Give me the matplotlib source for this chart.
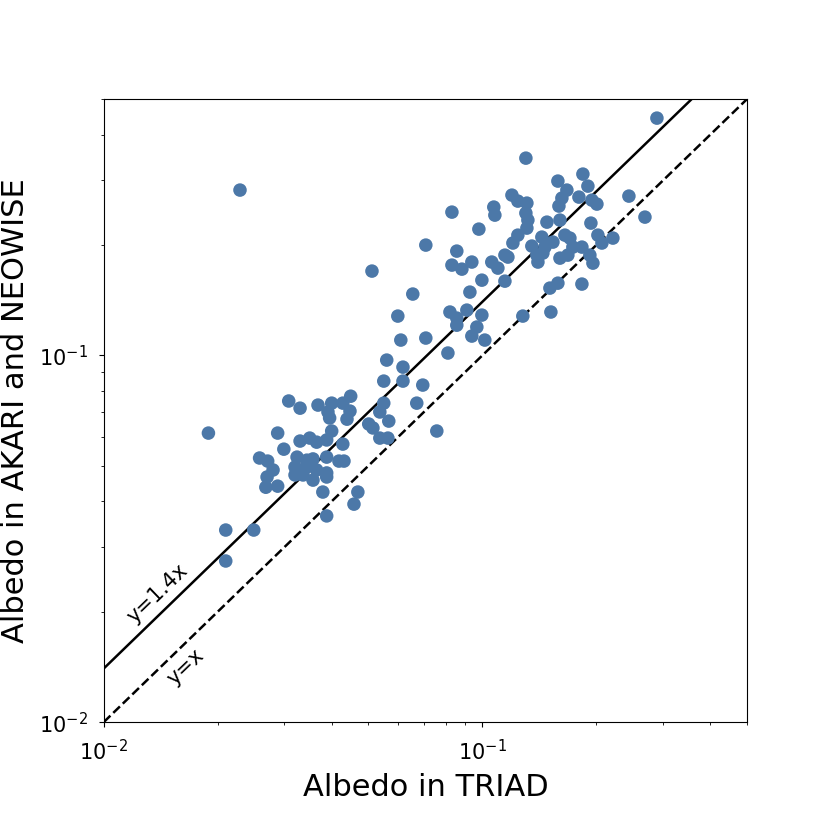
import matplotlib
matplotlib.use("Agg")
import matplotlib.pyplot as plt

# Albedo values (TRIAD on x, AKARI/NEOWISE on y)
albedo_triad = [
    0.0549, 0.0308, 0.0330, 0.0368, 0.0400, 0.0449, 0.0428, 0.0447, 0.0391, 0.0395,
    0.0439, 0.0549, 0.0536, 0.0566, 0.0501, 0.0514, 0.0189, 0.0288, 0.0400, 0.0330,
    0.0350, 0.0365, 0.0388, 0.0536, 0.0563, 0.0428, 0.0299, 0.0258, 0.0271, 0.0324,
    0.0344, 0.0357, 0.0388, 0.0418, 0.0431, 0.0320, 0.0330, 0.0344, 0.0365, 0.0280,
    0.0320, 0.0336, 0.0388, 0.0270, 0.0357, 0.0388, 0.0288, 0.0268, 0.0379, 0.0469,
    0.0458, 0.0388, 0.0210, 0.0249, 0.0210,
    0.0709, 0.0856, 0.0511, 0.0831, 0.0883, 0.0938, 0.0927, 0.0655, 0.0821, 0.0910,
    0.0856, 0.0856, 0.0967, 0.0598, 0.0938, 0.1015, 0.0609, 0.0709, 0.0811, 0.0559,
    0.0617, 0.0617, 0.0696, 0.0671, 0.0758, 0.0831, 0.0979,
    0.2891, 0.1303, 0.1843, 0.1583, 0.1900, 0.1672, 0.1799, 0.1622, 0.1947, 0.2007,
    0.1197, 0.1241, 0.1311, 0.2438, 0.1593, 0.1072, 0.1079, 0.1303, 0.1319, 0.1481,
    0.1603, 0.2688, 0.1935, 0.1311, 0.1241, 0.1436, 0.1652, 0.1703, 0.2019, 0.2212,
    0.1204, 0.1351, 0.1463, 0.1536, 0.1734, 0.1832, 0.2069, 0.1393, 0.1445, 0.1603,
    0.1682, 0.1923, 0.1147, 0.1059, 0.1099, 0.1402, 0.1959, 0.0997, 0.1147, 0.1508,
    0.1583, 0.1832, 0.1517, 0.1279, 0.0997, 0.1168, 0.0229,
]
albedo_akari_neowise = [
    0.0851, 0.0751, 0.0718, 0.0732, 0.0741, 0.0774, 0.0741, 0.0705, 0.0701, 0.0675,
    0.0670, 0.0741, 0.0701, 0.0662, 0.0650, 0.0634, 0.0614, 0.0614, 0.0622, 0.0584,
    0.0595, 0.0580, 0.0588, 0.0595, 0.0595, 0.0573, 0.0555, 0.0525, 0.0515, 0.0528,
    0.0518, 0.0522, 0.0528, 0.0515, 0.0515, 0.0496, 0.0487, 0.0496, 0.0487, 0.0487,
    0.0472, 0.0472, 0.0478, 0.0466, 0.0457, 0.0466, 0.0440, 0.0437, 0.0424, 0.0424,
    0.0393, 0.0365, 0.0334, 0.0334, 0.0275,
    0.1999, 0.1925, 0.1698, 0.1763, 0.1719, 0.1797, 0.1488, 0.1470, 0.1313, 0.1329,
    0.1264, 0.1209, 0.1195, 0.1280, 0.1129, 0.1101, 0.1101, 0.1115, 0.1015, 0.0971,
    0.0929, 0.0851, 0.0830, 0.0741, 0.0622, 0.2459, 0.2210,
    0.4437, 0.3451, 0.3122, 0.2988, 0.2895, 0.2824, 0.2702, 0.2685, 0.2651, 0.2586,
    0.2736, 0.2635, 0.2602, 0.2719, 0.2554, 0.2538, 0.2413, 0.2444, 0.2339, 0.2309,
    0.2339, 0.2383, 0.2295, 0.2224, 0.2128, 0.2102, 0.2128, 0.2089, 0.2128, 0.2089,
    0.2025, 0.1987, 0.1974, 0.2037, 0.1974, 0.1974, 0.2025, 0.1877, 0.1901, 0.1842,
    0.1877, 0.1877, 0.1877, 0.1797, 0.1730, 0.1797, 0.1785, 0.1604, 0.1594, 0.1526,
    0.1574, 0.1565, 0.1313, 0.1280, 0.1288, 0.1854, 0.2824,
]

axis_range = [0.01, 0.5]
ratio_lines = [1.4, 1.0]
ratio_labels = ["y=1.4x", "y=x"]

fig = plt.figure(figsize=(8.3, 8.3), dpi=100)
ax = fig.add_axes([0.125, 0.13, 0.775, 0.7506])

ax.scatter(albedo_triad, albedo_akari_neowise, s=95, color="#4C78A8",
           edgecolors="none", zorder=3)

ax.plot(axis_range, [ratio_lines[0] * v for v in axis_range], color="black",
        lw=1.8, ls="-", zorder=2)
ax.plot(axis_range, [ratio_lines[1] * v for v in axis_range], color="black",
        lw=1.8, ls="--", zorder=2)

ax.text(0.01391, 0.02244, ratio_labels[0], rotation=44, fontsize=15,
        ha="center", va="center", rotation_mode="anchor")
ax.text(0.01644, 0.01409, ratio_labels[1], rotation=44, fontsize=15,
        ha="center", va="center", rotation_mode="anchor")

ax.set_xscale("log")
ax.set_yscale("log")
ax.set_xlim(axis_range)
ax.set_ylim(axis_range)

ax.set_xlabel("Albedo in TRIAD", fontsize=22, labelpad=6)
ax.set_ylabel("Albedo in AKARI and NEOWISE", fontsize=22, labelpad=6.5)
ax.tick_params(axis="both", which="major", labelsize=15)
ax.tick_params(axis="x", which="major", pad=9)
ax.tick_params(axis="y", which="major", pad=8)

fig.savefig("out.png", dpi=100)
